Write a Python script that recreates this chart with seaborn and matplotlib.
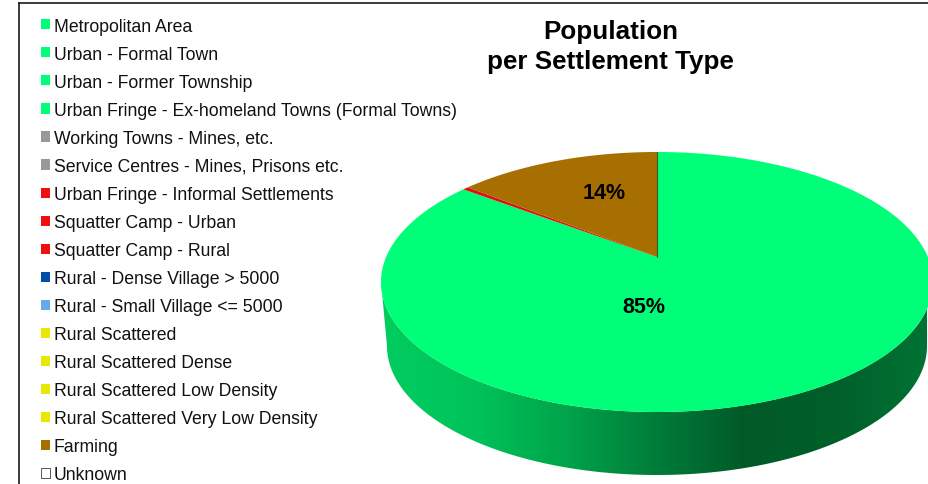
import numpy as np
import matplotlib
matplotlib.use("Agg")
import matplotlib.pyplot as plt
from matplotlib.patches import Patch, Polygon
import seaborn as sns

title = "Population\nper Settlement Type"
categories = ["Metropolitan Area", "Urban - Formal Town", "Urban - Former Township",
              "Urban Fringe - Ex-homeland Towns (Formal Towns)", "Working Towns - Mines, etc.",
              "Service Centres - Mines, Prisons etc.", "Urban Fringe - Informal Settlements",
              "Squatter Camp - Urban", "Squatter Camp - Rural", "Rural - Dense Village > 5000",
              "Rural - Small Village <= 5000", "Rural Scattered", "Rural Scattered Dense",
              "Rural Scattered Low Density", "Rural Scattered Very Low Density", "Farming", "Unknown"]
legend_colors = ["#00FF78"] * 4 + ["#999999"] * 2 + ["#F01010"] * 3 + ["#0050A8", "#66AAEE"] + \
                ["#E8E800"] * 4 + ["#A66F00", "#FFFFFF"]
slice_names = ["Urban", "Informal", "Farming"]
slice_values = [85.3, 0.4, 14.3]
slice_colors = ["#00FF78", "#E01010", "#A66F00"]
slice_labels = ["85%", None, "14%"]

sns.set_theme(style="white")
plt.rcParams["font.family"] = ["Liberation Sans", "DejaVu Sans"]

W, H = 929, 485
fig = plt.figure(figsize=(W / 100, H / 100), dpi=100, facecolor="white")
ax = fig.add_axes([19.5 / W, 0, 1 - 19.5 / W, (H - 4) / H])
ax.set_xlim(19.5, W)
ax.set_ylim(H, 4)
ax.set_xticks([])
ax.set_yticks([])
for s in ("right", "bottom"):
    ax.spines[s].set_visible(False)
for s in ("left", "top"):
    ax.spines[s].set_visible(True)
    ax.spines[s].set_color("#1a1a1a")
    ax.spines[s].set_linewidth(1.2)

# projected pie geometry
CX, CY, RX, RY = 657, 283, 276, 130
BX, BY, BRX, BRY = 657, 347, 270, 129
SHIFT = 25 / 130


def project_uv(u, v):
    d = 1 + SHIFT * v
    return CX + RX * u * np.sqrt(1 - SHIFT ** 2) / d, CY - RY * (v + SHIFT) / d


def project(theta):
    """clockwise angle from 12 o'clock on the disc -> picture position (perspective)"""
    return project_uv(np.sin(theta), np.cos(theta))


# side wall with its shading
t = np.linspace(0, np.pi, 200)
top_x, top_y = CX - RX * np.cos(t), CY + RY * np.sin(t)
bot_x, bot_y = BX + BRX * np.cos(t), BY + BRY * np.sin(t)
wall = np.column_stack([np.r_[top_x, bot_x], np.r_[top_y, bot_y]])
wall_cmap = sns.blend_palette(["#00CD5F", "#00C35A", "#00A54B", "#007D3A",
                               "#005A28", "#005F2A", "#007334"], as_cmap=True)
img = ax.imshow(np.linspace(0, 1, 256)[None, :], cmap=wall_cmap, aspect="auto",
                extent=(381, 927, 480, 280), zorder=1)
img.set_clip_path(Polygon(wall, closed=True, transform=ax.transData))
ax.set_xlim(19.5, W)
ax.set_ylim(H, 4)

# top face
edges = np.r_[0, np.cumsum(slice_values)] / np.sum(slice_values) * 2 * np.pi
ax_, ay_ = project_uv(0.0, 0.0)
for i, (v, c) in enumerate(zip(slice_values, slice_colors)):
    th = np.linspace(edges[i], edges[i + 1], max(3, int(v * 6)))
    x, y = project(th)
    ax.fill(np.r_[ax_, x], np.r_[ay_, y], color=c, lw=0, zorder=2)

# seam where the last slice meets the first
sx, sy = project(np.array([0.0]))
ax.plot([ax_, sx[0]], [ay_, sy[0]], color="#3F5A25", lw=0.8, zorder=3)

ax.text(644, 308, "85%", ha="center", va="center", fontsize=15.5, fontweight="bold", color="black", zorder=4)
ax.text(604, 194, "14%", ha="center", va="center", fontsize=15.5, fontweight="bold", color="black", zorder=4)
ax.text(610.5, 47, title, ha="center", va="center", fontsize=18.75, fontweight="bold",
        color="black", linespacing=1.31, zorder=4)

handles = [Patch(facecolor=c, edgecolor="#555555" if c == "#FFFFFF" else c, lw=0.7 if c == "#FFFFFF" else 0)
           for c in legend_colors]
fs = 12.7
fpx = fs * 100 / 72
ax.legend(handles, categories, loc="upper left", bbox_to_anchor=(41, 18.5), bbox_transform=ax.transData,
          frameon=False, fontsize=fs, borderpad=0, borderaxespad=0, labelspacing=0.627,
          handlelength=9 / fpx, handleheight=0.51, handletextpad=4 / fpx, labelcolor="#111111")

fig.savefig("out.png", dpi=100, facecolor="white")
